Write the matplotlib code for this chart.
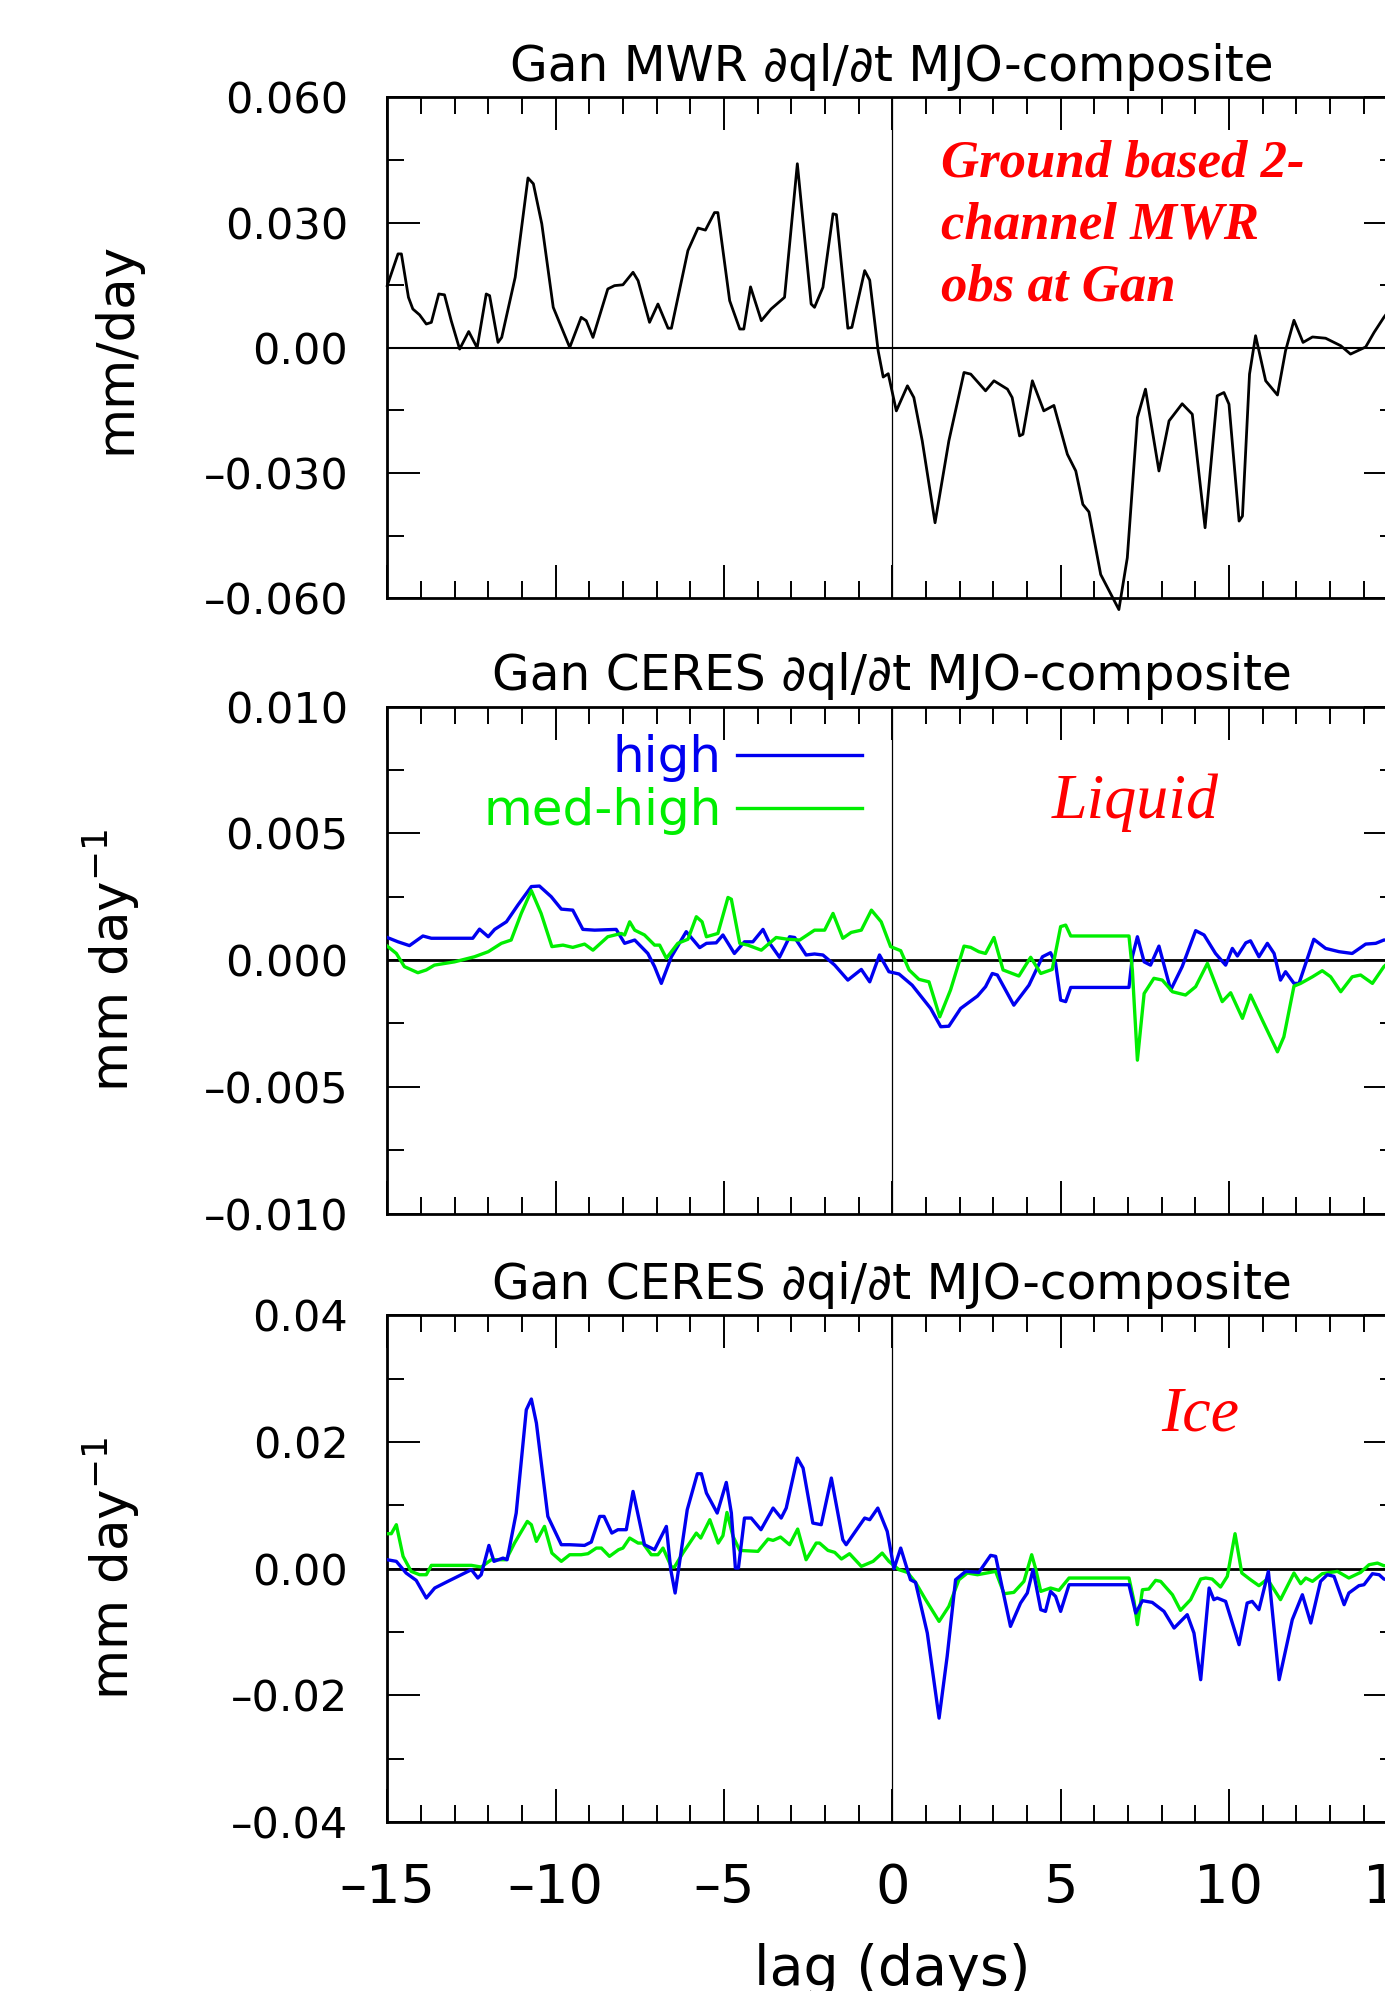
import matplotlib
matplotlib.use('Agg')
import matplotlib.pyplot as plt
from matplotlib.ticker import MultipleLocator

plt.rcParams['font.family'] = ['DejaVu Sans']
plt.rcParams['mathtext.fontset'] = 'dejavusans'

# ---- top panel: Gan MWR dql/dt composite (mm/day) ----
mwr_lag = [-15.0, -14.68, -14.58, -14.37, -14.24, -14.04, -13.84, -13.69, -13.47, -13.3,
           -13.1, -12.85, -12.58, -12.33, -12.06, -11.96, -11.71, -11.6, -11.2, -10.82,
           -10.66, -10.41, -10.07, -9.58, -9.24, -9.09, -8.89, -8.45, -8.25, -8.0,
           -7.7, -7.55, -7.21, -6.96, -6.66, -6.56, -6.07, -5.77, -5.55, -5.28,
           -5.18, -4.83, -4.53, -4.41, -4.21, -3.89, -3.6, -3.2, -2.82, -2.41,
           -2.31, -2.06, -1.76, -1.66, -1.32, -1.2, -0.82, -0.67, -0.42, -0.27,
           -0.12, 0.12, 0.45, 0.64, 0.89, 1.27, 1.68, 2.13, 2.33, 2.77,
           3.02, 3.42, 3.56, 3.78, 3.88, 4.16, 4.5, 4.8, 5.2, 5.45,
           5.66, 5.84, 6.19, 6.73, 6.98, 7.28, 7.52, 7.92, 8.22, 8.61,
           8.91, 9.29, 9.65, 9.85, 10.0, 10.3, 10.4, 10.61, 10.79, 11.09,
           11.44, 11.68, 11.93, 12.2, 12.48, 12.87, 13.32, 13.61, 14.06, 14.31,
           14.6, 14.9]
mwr_dqdt = [0.0149, 0.0225, 0.0225, 0.0121, 0.0093, 0.0079, 0.0057, 0.0061, 0.0129, 0.0127,
            0.0065, -0.0003, 0.0039, 0.0, 0.0129, 0.0125, 0.0013, 0.0025, 0.0169, 0.0407,
            0.0393, 0.0297, 0.0097, 0.0001, 0.0073, 0.0065, 0.0025, 0.0141, 0.0149, 0.0151,
            0.0181, 0.0161, 0.0061, 0.0105, 0.0047, 0.0047, 0.0233, 0.0287, 0.0282, 0.0324,
            0.0324, 0.0113, 0.0045, 0.0045, 0.0146, 0.0065, 0.0093, 0.0121, 0.0441, 0.0105,
            0.0097, 0.0145, 0.0321, 0.0319, 0.0047, 0.0049, 0.0185, 0.0162, -0.0007, -0.0070,
            -0.0062, -0.0151, -0.0091, -0.0119, -0.0223, -0.0419, -0.0223, -0.0059, -0.0063, -0.0103,
            -0.0079, -0.0099, -0.0119, -0.0211, -0.0207, -0.0079, -0.0151, -0.0138, -0.0255, -0.0295,
            -0.0375, -0.0393, -0.0543, -0.0627, -0.0503, -0.0167, -0.0099, -0.0295, -0.0175, -0.0134,
            -0.0159, -0.0431, -0.0115, -0.0107, -0.0135, -0.0415, -0.0403, -0.0063, 0.0029, -0.0079,
            -0.0113, -0.0007, 0.0066, 0.0013, 0.0026, 0.0023, 0.0005, -0.0015, 0.0002, 0.0037,
            0.0073, 0.0105]

# ---- middle panel: CERES liquid dql/dt ----
liq_high_lag = [-15.0, -14.68, -14.34, -13.94, -13.69, -13.2, -12.46, -12.26, -12.0, -11.81,
                -11.46, -11.12, -10.72, -10.48, -10.13, -9.83, -9.49, -9.19, -8.84, -8.2,
                -7.95, -7.65, -7.26, -7.06, -6.86, -6.56, -6.12, -5.72, -5.52, -5.23,
                -5.03, -4.69, -4.39, -4.14, -3.84, -3.64, -3.35, -3.05, -2.9, -2.56,
                -2.31, -2.06, -1.71, -1.32, -0.92, -0.67, -0.38, -0.1, 0.2, 0.59,
                1.14, 1.44, 1.68, 2.03, 2.53, 2.77, 2.97, 3.12, 3.61, 4.06,
                4.46, 4.7, 4.85, 5.0, 5.15, 5.3, 7.03, 7.13, 7.28, 7.48,
                7.67, 7.92, 8.27, 8.61, 9.01, 9.26, 9.6, 9.9, 10.1, 10.25,
                10.5, 10.64, 10.89, 11.14, 11.34, 11.53, 11.68, 11.93, 12.08, 12.52,
                12.87, 13.27, 13.66, 14.06, 14.36, 14.6, 14.9]
liq_high = [0.00089, 0.00072, 0.00057, 0.00095, 0.00086, 0.00086, 0.00086, 0.00122, 0.00092, 0.00121,
            0.00151, 0.00217, 0.00290, 0.00292, 0.00250, 0.00201, 0.00197, 0.00121, 0.00118, 0.00121,
            0.00066, 0.00079, 0.00026, -0.00026, -0.00092, 0.00013, 0.00112, 0.00049, 0.00066, 0.00068,
            0.00099, 0.00026, 0.00072, 0.00072, 0.00121, 0.00066, 0.00011, 0.00092, 0.00089, 0.00020,
            0.00024, 0.00020, -0.00020, -0.00079, -0.00037, -0.00086, 0.00020, -0.00046, -0.00055, -0.00099,
            -0.00191, -0.00263, -0.00261, -0.00191, -0.00142, -0.00105, -0.00053, -0.00059, -0.00178, -0.00099,
            0.00013, 0.00029, -0.00013, -0.00158, -0.00164, -0.00108, -0.00108, 0.00013, 0.00092, -0.00007,
            -0.00020, 0.00055, -0.00118, -0.00026, 0.00116, 0.00099, 0.00026, -0.00020, 0.00046, 0.00016,
            0.00068, 0.00076, 0.00013, 0.00066, 0.00026, -0.00079, -0.00046, -0.00092, -0.00092, 0.00082,
            0.00046, 0.00033, 0.00026, 0.00063, 0.00066, 0.00079, 0.00080]

liq_med_lag = [-15.0, -14.73, -14.49, -14.09, -13.84, -13.6, -13.0, -12.41, -12.0, -11.61,
               -11.32, -11.02, -10.72, -10.43, -10.11, -9.78, -9.49, -9.14, -8.89, -8.45,
               -8.05, -7.95, -7.8, -7.65, -7.36, -7.06, -6.91, -6.71, -6.37, -6.07,
               -5.82, -5.65, -5.52, -5.18, -4.88, -4.78, -4.53, -4.29, -3.89, -3.45,
               -3.1, -2.75, -2.31, -2.01, -1.76, -1.47, -1.22, -0.92, -0.62, -0.33,
               -0.05, 0.25, 0.5, 0.79, 1.09, 1.41, 1.73, 2.13, 2.33, 2.57,
               2.77, 3.02, 3.29, 3.76, 4.11, 4.41, 4.75, 5.0, 5.15, 5.3,
               7.03, 7.13, 7.28, 7.48, 7.77, 8.02, 8.32, 8.71, 9.01, 9.36,
               9.8, 10.05, 10.4, 10.64, 10.99, 11.44, 11.63, 11.93, 12.13, 12.48,
               12.77, 13.02, 13.32, 13.66, 13.91, 14.26, 14.6, 14.9]
liq_med = [0.00055, 0.00026, -0.00026, -0.00050, -0.00039, -0.00020, -0.00007, 0.00013, 0.00033, 0.00066,
           0.00079, 0.00184, 0.00274, 0.00184, 0.00053, 0.00059, 0.00050, 0.00063, 0.00039, 0.00092,
           0.00105, 0.00099, 0.00151, 0.00118, 0.00099, 0.00059, 0.00059, 0.00007, 0.00066, 0.00082,
           0.00171, 0.00151, 0.00092, 0.00105, 0.00247, 0.00240, 0.00066, 0.00059, 0.00039, 0.00089,
           0.00082, 0.00079, 0.00118, 0.00118, 0.00184, 0.00086, 0.00109, 0.00118, 0.00197, 0.00151,
           0.00053, 0.00037, -0.00039, -0.00076, -0.00086, -0.00224, -0.00118, 0.00055, 0.00050, 0.00033,
           0.00026, 0.00089, -0.00039, -0.00063, 0.00011, -0.00053, -0.00037, 0.00132, 0.00138, 0.00095,
           0.00095, -0.00039, -0.00395, -0.00132, -0.00072, -0.00079, -0.00125, -0.00138, -0.00105, -0.00013,
           -0.00164, -0.00129, -0.00230, -0.00138, -0.00237, -0.00362, -0.00303, -0.00103, -0.00092, -0.00066,
           -0.00042, -0.00066, -0.00125, -0.00066, -0.00059, -0.00092, -0.00026, 0.00010]

# ---- bottom panel: CERES ice dqi/dt ----
ice_high_lag = [-15.0, -14.73, -14.44, -14.14, -13.84, -13.59, -13.2, -12.5, -12.31, -12.21,
                -11.98, -11.83, -11.56, -11.44, -11.17, -10.87, -10.72, -10.57, -10.23, -9.83,
                -9.58, -9.14, -8.94, -8.69, -8.56, -8.33, -8.15, -7.9, -7.7, -7.36,
                -7.06, -6.71, -6.58, -6.45, -6.09, -5.79, -5.67, -5.52, -5.2, -4.93,
                -4.78, -4.66, -4.57, -4.39, -4.19, -3.9, -3.54, -3.3, -3.15, -2.82,
                -2.65, -2.36, -2.11, -1.81, -1.47, -1.37, -0.82, -0.67, -0.43, -0.15,
                0.05, 0.25, 0.54, 0.69, 1.04, 1.39, 1.63, 1.88, 2.18, 2.57,
                2.92, 3.07, 3.32, 3.51, 3.81, 4.01, 4.18, 4.41, 4.55, 4.7,
                4.85, 5.0, 5.25, 7.03, 7.23, 7.43, 7.72, 8.07, 8.37, 8.76,
                8.96, 9.16, 9.41, 9.55, 9.65, 9.9, 10.3, 10.54, 10.69, 10.89,
                11.17, 11.49, 11.88, 12.18, 12.43, 12.72, 12.92, 13.12, 13.42, 13.56,
                13.86, 14.01, 14.26, 14.46, 14.6, 14.9]
ice_high = [0.00142, 0.00116, -0.00068, -0.00184, -0.00463, -0.00305, -0.00200, -0.00016, -0.00147, -0.00095,
            0.00368, 0.00116, 0.00168, 0.00142, 0.00879, 0.0251, 0.0268, 0.0230, 0.00826, 0.00379,
            0.00379, 0.00368, 0.00421, 0.00826, 0.00826, 0.00563, 0.00616, 0.00616, 0.01221, 0.00379,
            0.00300, 0.00668, -0.00016, -0.00384, 0.00932, 0.0150, 0.0150, 0.01195, 0.00879, 0.01363,
            0.00879, 0.00011, 0.00011, 0.00800, 0.00800, 0.00616, 0.00958, 0.00800, 0.00958, 0.01747,
            0.0159, 0.00721, 0.00695, 0.01432, 0.00458, 0.00379, 0.00800, 0.00774, 0.00958, 0.00589,
            0.0, 0.00326, -0.00174, -0.00216, -0.01016, -0.0236, -0.01384, -0.00174, -0.00042, -0.00058,
            0.00211, 0.00195, -0.00437, -0.00911, -0.00542, -0.00384, -0.00016, -0.00647, -0.00674, -0.00358,
            -0.00437, -0.00674, -0.00253, -0.00253, -0.00700, -0.00505, -0.00532, -0.00674, -0.00937, -0.00726,
            -0.01016, -0.01753, -0.00305, -0.00489, -0.00463, -0.00516, -0.0120, -0.00542, -0.00516, -0.00647,
            -0.00042, -0.01753, -0.00805, -0.00411, -0.00858, -0.00200, -0.00095, -0.00121, -0.00568, -0.00384,
            -0.00268, -0.00253, -0.00079, -0.00095, -0.00163, -0.00200]

ice_med_lag = [-15.0, -14.88, -14.73, -14.53, -14.29, -14.04, -13.84, -13.69, -12.5, -12.21,
               -11.91, -11.47, -11.22, -10.84, -10.72, -10.57, -10.33, -10.11, -9.83, -9.58,
               -9.24, -9.04, -8.79, -8.64, -8.4, -8.13, -8.0, -7.8, -7.55, -7.41,
               -7.16, -6.96, -6.81, -6.56, -6.47, -6.22, -5.82, -5.69, -5.42, -5.17,
               -5.03, -4.91, -4.73, -4.53, -3.99, -3.69, -3.54, -3.32, -3.05, -2.81,
               -2.56, -2.26, -2.16, -1.91, -1.71, -1.51, -1.27, -0.92, -0.57, -0.3,
               -0.1, 0.2, 0.45, 0.69, 0.99, 1.39, 1.68, 1.98, 2.23, 2.53,
               3.07, 3.32, 3.61, 3.91, 4.14, 4.26, 4.41, 4.7, 4.95, 5.25,
               7.03, 7.18, 7.28, 7.43, 7.62, 7.82, 7.97, 8.32, 8.56, 8.86,
               9.16, 9.31, 9.5, 9.75, 9.95, 10.18, 10.38, 10.64, 10.89, 11.14,
               11.53, 11.93, 12.13, 12.28, 12.48, 12.77, 13.22, 13.56, 13.91, 14.16,
               14.41, 14.6, 14.9]
ice_med = [0.00553, 0.00553, 0.00695, 0.00195, -0.00042, -0.00095, -0.00095, 0.00053, 0.00053, 0.00026,
           0.00142, 0.00142, 0.00405, 0.00747, 0.00695, 0.00432, 0.00668, 0.00247, 0.00116, 0.00221,
           0.00221, 0.00237, 0.00326, 0.00326, 0.00195, 0.00300, 0.00326, 0.00484, 0.00405, 0.00405,
           0.00221, 0.00221, 0.00326, 0.00026, 0.00026, 0.00247, 0.00563, 0.00484, 0.00774, 0.00405,
           0.00521, 0.00889, 0.00511, 0.00289, 0.00274, 0.00468, 0.00447, 0.00500, 0.00379, 0.00626,
           0.00142, 0.00405, 0.00405, 0.00289, 0.00258, 0.00153, 0.00237, 0.00037, 0.00116, 0.00247,
           0.00116, -0.00016, -0.00058, -0.00216, -0.00489, -0.00832, -0.00595, -0.00174, -0.00068, -0.00095,
           -0.00042, -0.00395, -0.00374, -0.00200, 0.00221, -0.00005, -0.00358, -0.00305, -0.00342, -0.00147,
           -0.00147, -0.00516, -0.00884, -0.00332, -0.00321, -0.00184, -0.00200, -0.00411, -0.00658, -0.00489,
           -0.00163, -0.00147, -0.00163, -0.00289, -0.00121, 0.00553, -0.00068, -0.00174, -0.00268, -0.00163,
           -0.00489, -0.00068, -0.00237, -0.00147, -0.00200, -0.00079, -0.00042, -0.00147, -0.00058, 0.00063,
           0.00089, 0.00047, 0.00060]

# axis ticks / labels
lag_ticks = [-15, -10, -5, 0, 5, 10, 15]
lag_labels = ['\u201315', '\u201310', '\u20135', '0', '5', '10', '15']
mwr_ticks = [0.060, 0.030, 0.0, -0.030, -0.060]
mwr_labels = ['0.060', '0.030', '0.00', '\u20130.030', '\u20130.060']
liq_ticks = [0.010, 0.005, 0.0, -0.005, -0.010]
liq_labels = ['0.010', '0.005', '0.000', '\u20130.005', '\u20130.010']
ice_ticks = [0.04, 0.02, 0.0, -0.02, -0.04]
ice_labels = ['0.04', '0.02', '0.00', '\u20130.02', '\u20130.04']

blue = '#0000f0'
green = '#00ee00'

fig = plt.figure(figsize=(13.85, 19.91), dpi=100)
ax1 = fig.add_axes([0.2796, 0.6995, 0.7293, 0.2516])
ax2 = fig.add_axes([0.2796, 0.3905, 0.7293, 0.2546])
ax3 = fig.add_axes([0.2796, 0.0849, 0.7293, 0.2544])


def style(ax, yticks, ylabels, ymin, ymax, ystep, title, ylabel):
    ax.set_xlim(-15, 15)
    ax.set_ylim(ymin, ymax)
    ax.set_xticks(lag_ticks)
    ax.xaxis.set_minor_locator(MultipleLocator(1))
    ax.set_yticks(yticks)
    ax.set_yticklabels(ylabels)
    ax.yaxis.set_minor_locator(MultipleLocator(ystep))
    ax.tick_params(which='both', direction='in', top=True, right=True, width=1.4, colors='black')
    ax.tick_params(which='major', length=23.5)
    ax.tick_params(which='minor', length=12)
    ax.tick_params(axis='y', labelsize=31, pad=28)
    ax.tick_params(axis='x', labelsize=39, pad=29)
    for sp in ax.spines.values():
        sp.set_linewidth(2.0)
    ax.axvline(0, color='black', lw=0.9, zorder=1)
    ax.set_title(title, fontsize=35, pad=12)
    ax.set_ylabel(ylabel, fontsize=37)
    ax.yaxis.set_label_coords(-0.243, 0.5)


style(ax1, mwr_ticks, mwr_labels, -0.060, 0.060, 0.015,
      'Gan MWR \u2202ql/\u2202t MJO-composite', 'mm/day')
style(ax2, liq_ticks, liq_labels, -0.010, 0.010, 0.0025,
      'Gan CERES \u2202ql/\u2202t MJO-composite', 'mm day$^{-1}$')
style(ax3, ice_ticks, ice_labels, -0.04, 0.04, 0.01,
      'Gan CERES \u2202qi/\u2202t MJO-composite', 'mm day$^{-1}$')

ax1.tick_params(axis='x', labelbottom=False)
ax2.tick_params(axis='x', labelbottom=False)
ax3.set_xticklabels(lag_labels)
ax3.set_xlabel('lag (days)', fontsize=40)
ax3.xaxis.set_label_coords(0.5, -0.238)

# top panel
ax1.axhline(0, color='black', lw=1.5, zorder=2)
ax1.plot(mwr_lag, mwr_dqdt, color='black', lw=2.0, zorder=3, clip_on=False)
ax1.text(1.45, 0.0500, 'Ground based 2-\nchannel MWR\nobs at Gan', color='red',
         fontsize=38, fontweight='bold', fontstyle='italic', family='Liberation Serif',
         va='top', ha='left', linespacing=1.38)

# middle panel
ax2.axhline(0, color='black', lw=2.0, zorder=2)
ax2.plot(liq_high_lag, liq_high, color=blue, lw=2.4, zorder=3, label='high')
ax2.plot(liq_med_lag, liq_med, color=green, lw=2.4, zorder=3, label='med-high')
ax2.legend(loc='upper right', bbox_to_anchor=(0.470, 0.945), markerfirst=False,
           frameon=False, fontsize=36, handlelength=2.5, handletextpad=0.3,
           labelspacing=0.1, borderpad=0, borderaxespad=0, labelcolor='linecolor')
ax2.text(4.74, 0.0056, 'Liquid', color='red', fontsize=46, fontstyle='italic',
         family='Liberation Serif', va='baseline', ha='left')

# bottom panel
ax3.axhline(0, color='black', lw=2.0, zorder=2)
ax3.plot(ice_high_lag, ice_high, color=blue, lw=2.4, zorder=4)
ax3.plot(ice_med_lag, ice_med, color=green, lw=2.4, zorder=3)
ax3.text(8.0, 0.0218, 'Ice', color='red', fontsize=46, fontstyle='italic',
         family='Liberation Serif', va='baseline', ha='left')

plt.savefig('out.png', dpi=100)
